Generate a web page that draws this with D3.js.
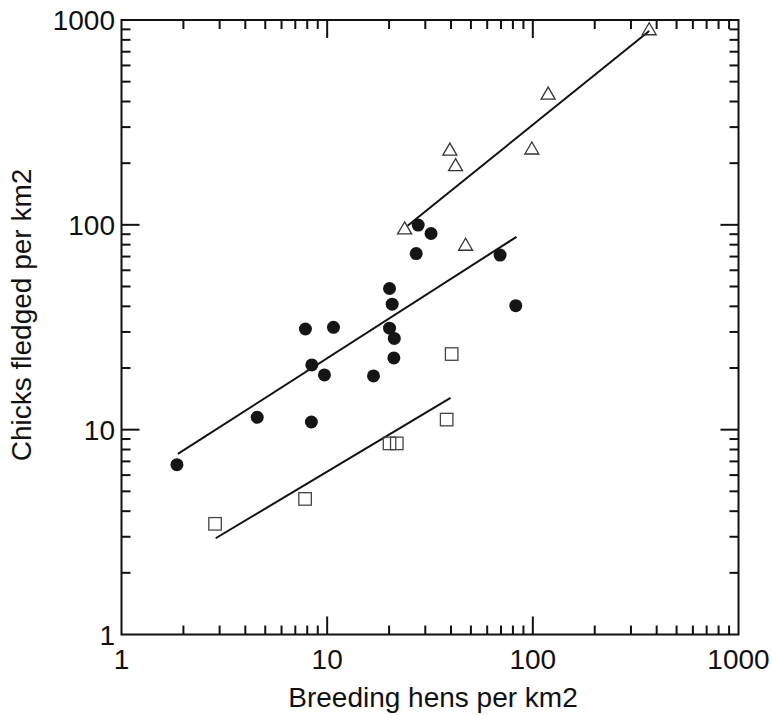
<!DOCTYPE html>
<html><head><meta charset="utf-8">
<script src="https://cdn.jsdelivr.net/npm/d3@7"></script>
<style>body{margin:0;background:#fff}svg{display:block}text{font-family:"Liberation Sans",Arial,sans-serif;fill:#111}</style>
</head><body><svg id="c" width="772" height="715"></svg>
<script>
// Circles (solid)
const circleX = [1.86, 4.57, 8.38, 7.84, 10.73, 8.42, 9.70, 16.8, 20.1, 20.7, 20.1, 21.2, 21.1, 27.7, 32.0, 27.1, 69.3, 82.6];
const circleY = [6.75, 11.5, 10.9, 31.0, 31.6, 20.7, 18.5, 18.3, 48.9, 41.0, 31.3, 27.9, 22.4, 99.7, 90.7, 72.4, 71.2, 40.3];
// Squares (open)
const squareX = [2.85, 7.81, 20.1, 21.8, 38.1, 40.3];
const squareY = [3.47, 4.59, 8.57, 8.57, 11.2, 23.4];
// Triangles (open)
const triX = [23.8, 39.5, 42.1, 47.1, 98.9, 118.7, 368];
const triY = [95.3, 231, 194, 79.3, 234, 434, 894];
// Regression lines [x0, y0, x1, y1]
const lineCircles = [1.88, 7.61, 83.3, 87.4];
const lineSquares = [2.87, 2.95, 39.8, 14.3];
const lineTriangles = [24.6, 98.9, 368, 884];
const tickLabels = ["1", "10", "100", "1000"];
const tickValues = [1, 10, 100, 1000];

const svg = d3.select("#c");
const L = 121.5, R = 738.5, T = 20, B = 634.5;
const x = d3.scaleLog().domain([1, 1000]).range([L, R]);
const y = d3.scaleLog().domain([1, 1000]).range([B, T]);

const minors = [];
for (let d = 1; d < 1000; d *= 10) for (let k = 2; k <= 9; k++) minors.push(d * k);

const g = svg.append("g");
// frame
g.append("rect").attr("x", L).attr("y", T).attr("width", R - L).attr("height", B - T)
  .attr("fill", "none").attr("stroke", "#111").attr("stroke-width", 2);

function ticks(vals, len) {
  vals.forEach(v => {
    const px = x(v), py = y(v);
    g.append("line").attr("x1", px).attr("x2", px).attr("y1", B).attr("y2", B - len);
    g.append("line").attr("x1", px).attr("x2", px).attr("y1", T).attr("y2", T + len);
    g.append("line").attr("y1", py).attr("y2", py).attr("x1", L).attr("x2", L + len);
    g.append("line").attr("y1", py).attr("y2", py).attr("x1", R).attr("x2", R - len);
  });
}
ticks(minors, 9);
ticks([10, 100], 18);
g.selectAll("line").attr("stroke", "#111").attr("stroke-width", 2);

// tick labels
const fs = 28;
svg.selectAll(".xl").data(tickValues).join("text").attr("class", "xl")
  .attr("x", d => x(d)).attr("y", 669).attr("text-anchor", "middle")
  .attr("font-size", fs).text((d, i) => tickLabels[i]);
svg.selectAll(".yl").data(tickValues).join("text").attr("class", "yl")
  .attr("x", 115).attr("y", d => y(d)).attr("dy", "0.36em").attr("text-anchor", "end")
  .attr("font-size", fs).text((d, i) => tickLabels[i]);

// titles
svg.append("text").attr("x", 433).attr("y", 707).attr("text-anchor", "middle")
  .attr("font-size", fs).text("Breeding hens per km2");
svg.append("text").attr("transform", "translate(31,315) rotate(-90)").attr("text-anchor", "middle")
  .attr("font-size", fs).text("Chicks fledged per km2");

// regression lines
[lineCircles, lineSquares, lineTriangles].forEach(l => {
  svg.append("line").attr("x1", x(l[0])).attr("y1", y(l[1])).attr("x2", x(l[2])).attr("y2", y(l[3]))
    .attr("stroke", "#111").attr("stroke-width", 2);
});

// circles
svg.selectAll(".ci").data(circleX).join("circle").attr("class", "ci")
  .attr("cx", d => x(d)).attr("cy", (d, i) => y(circleY[i])).attr("r", 6.5).attr("fill", "#151515");
// squares
const s = 12.5;
svg.selectAll(".sq").data(squareX).join("rect").attr("class", "sq")
  .attr("x", d => x(d) - s / 2).attr("y", (d, i) => y(squareY[i]) - s / 2)
  .attr("width", s).attr("height", s).attr("fill", "none").attr("stroke", "#444").attr("stroke-width", 1.3);
// triangles
const tw = 14, th = 12;
svg.selectAll(".tr").data(triX).join("path").attr("class", "tr")
  .attr("d", (d, i) => {
    const cx = x(d), cy = y(triY[i]);
    return `M${cx},${cy - th * 0.6}L${cx + tw / 2},${cy + th * 0.4}L${cx - tw / 2},${cy + th * 0.4}Z`;
  })
  .attr("fill", "none").attr("stroke", "#333").attr("stroke-width", 1.3);
</script></body></html>
